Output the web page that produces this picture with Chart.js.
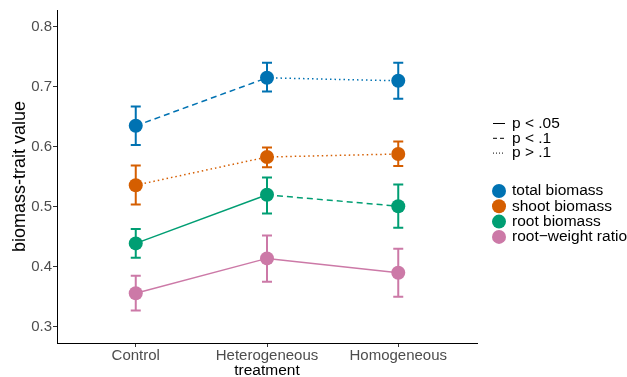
<!DOCTYPE html>
<html>
<head>
<meta charset="utf-8">
<script src="https://cdn.jsdelivr.net/npm/chart.js@4/dist/chart.umd.min.js"></script>
<style>
  body { margin: 0; background: #fff; }
  #wrap { width: 627px; height: 377px; }
</style>
</head>
<body>
<div id="wrap"><canvas id="traitChart" width="627" height="377"></canvas></div>
<script>
// data
const treatments = ['Control', 'Heterogeneous', 'Homogeneous'];
const seriesNames = ['total biomass', 'shoot biomass', 'root biomass', 'root\u2212weight ratio'];
const seriesColors = ['#0072B2', '#D55E00', '#009E73', '#CC79A7'];

const totalBiomass = [0.635, 0.715, 0.710];
const totalLow = [0.603, 0.692, 0.680];
const totalHigh = [0.667, 0.740, 0.740];

const shootBiomass = [0.536, 0.583, 0.588];
const shootLow = [0.504, 0.566, 0.568];
const shootHigh = [0.569, 0.599, 0.609];

const rootBiomass = [0.439, 0.520, 0.501];
const rootLow = [0.415, 0.489, 0.465];
const rootHigh = [0.463, 0.549, 0.537];

const ratioValues = [0.356, 0.414, 0.390];
const ratioLow = [0.327, 0.375, 0.350];
const ratioHigh = [0.385, 0.452, 0.430];

// significance of each segment (Control->Het, Het->Hom)
const totalSig = ['p < .1', 'p > .1'];
const shootSig = ['p > .1', 'p > .1'];
const rootSig = ['p < .05', 'p < .1'];
const ratioSig = ['p < .05', 'p < .05'];

const sigLevels = ['p < .05', 'p < .1', 'p > .1'];
const yTicks = [0.3, 0.4, 0.5, 0.6, 0.7, 0.8];

const dashFor = {
    'p < .05': [],
    'p < .1': [6, 4],
    'p > .1': [1.5, 3]
};
const legendDash = {
    'p < .05': [],
    'p < .1': [4, 3],
    'p > .1': [1, 2]
};

function makeSet(i, values, low, high, sig) {
    return {
        label: seriesNames[i],
        data: values.map((v, k) => ({ x: k + 1, y: v })),
        low: low,
        high: high,
        borderColor: seriesColors[i],
        backgroundColor: seriesColors[i],
        borderWidth: 1.5,
        pointRadius: 7,
        pointHoverRadius: 7,
        pointBorderWidth: 0,
        showLine: true,
        segment: {
            borderDash: ctx => dashFor[sig[ctx.p0DataIndex]]
        }
    };
}

const errorBars = {
    id: 'errorBars',
    beforeDatasetsDraw(chart) {
        const ctx = chart.ctx;
        const xs = chart.scales.x, ys = chart.scales.y;
        ctx.save();
        chart.data.datasets.forEach(ds => {
            ctx.strokeStyle = ds.borderColor;
            ctx.lineWidth = 2;
            ds.data.forEach((p, k) => {
                const x = xs.getPixelForValue(p.x);
                const y1 = ys.getPixelForValue(ds.low[k]);
                const y2 = ys.getPixelForValue(ds.high[k]);
                ctx.beginPath();
                ctx.moveTo(x, y1); ctx.lineTo(x, y2);
                ctx.moveTo(x - 5, y1); ctx.lineTo(x + 5, y1);
                ctx.moveTo(x - 5, y2); ctx.lineTo(x + 5, y2);
                ctx.stroke();
            });
        });
        ctx.restore();
    }
};

const legendBox = {
    id: 'legendBox',
    afterDraw(chart) {
        const ctx = chart.ctx;
        ctx.save();
        ctx.font = '15.5px "Liberation Sans", Arial, sans-serif';
        ctx.textBaseline = 'middle';
        sigLevels.forEach((s, i) => {
            const y = 123.5 + i * 14.8;
            ctx.strokeStyle = '#000';
            ctx.lineWidth = 1;
            ctx.setLineDash(legendDash[s]);
            ctx.beginPath();
            ctx.moveTo(493, y); ctx.lineTo(505, y);
            ctx.stroke();
            ctx.fillStyle = '#000';
            ctx.fillText(s, 512, y);
        });
        ctx.setLineDash([]);
        seriesNames.forEach((n, i) => {
            const y = 191 + i * 15.3;
            ctx.fillStyle = seriesColors[i];
            ctx.beginPath();
            ctx.arc(499, y, 7, 0, Math.PI * 2);
            ctx.fill();
            ctx.fillStyle = '#000';
            ctx.fillText(n, 512, y);
        });
        ctx.restore();
    }
};

const tickFont = { family: '"Liberation Sans", Arial, sans-serif', size: 15 };
const titleFont = { family: '"Liberation Sans", Arial, sans-serif', size: 15.5 };
const yTitleFont = { family: '"Liberation Sans", Arial, sans-serif', size: 18 };

const config = {
    type: 'scatter',
    data: {
        datasets: [
            makeSet(0, totalBiomass, totalLow, totalHigh, totalSig),
            makeSet(1, shootBiomass, shootLow, shootHigh, shootSig),
            makeSet(2, rootBiomass, rootLow, rootHigh, rootSig),
            makeSet(3, ratioValues, ratioLow, ratioHigh, ratioSig)
        ]
    },
    options: {
        responsive: false,
        animation: false,
        layout: { padding: { top: 10, right: 150, left: 0, bottom: 0 } },
        plugins: {
            legend: { display: false },
            tooltip: { enabled: false }
        },
        scales: {
            x: {
                type: 'linear',
                min: 0.4,
                max: 3.6,
                afterBuildTicks: s => { s.ticks = treatments.map((t, i) => ({ value: i + 1 })); },
                afterFit: s => { s.height = 34; },
                ticks: {
                    callback: v => treatments[v - 1],
                    color: '#4d4d4d',
                    font: tickFont,
                    padding: 0,
                    maxRotation: 0
                },
                grid: { drawOnChartArea: false, drawTicks: true, tickLength: 4, tickColor: '#333' },
                border: { color: '#000', width: 1 },
                title: { display: true, text: 'treatment', color: '#000', font: titleFont, padding: { top: 0, bottom: -3 } }
            },
            y: {
                min: 0.273,
                max: 0.828,
                afterBuildTicks: s => { s.ticks = yTicks.map(v => ({ value: v })); },
                afterFit: s => { s.width = 57; },
                ticks: {
                    callback: v => v.toFixed(1),
                    color: '#4d4d4d',
                    font: tickFont,
                    padding: 1
                },
                grid: { drawOnChartArea: false, drawTicks: true, tickLength: 4, tickColor: '#333' },
                border: { color: '#000', width: 1 },
                title: { display: true, text: 'biomass-trait value', color: '#000', font: yTitleFont, padding: { top: 9, bottom: 0 } }
            }
        }
    },
    plugins: [errorBars, legendBox]
};

const ctx = document.getElementById('traitChart').getContext('2d');
new Chart(ctx, config);
</script>
</body>
</html>
